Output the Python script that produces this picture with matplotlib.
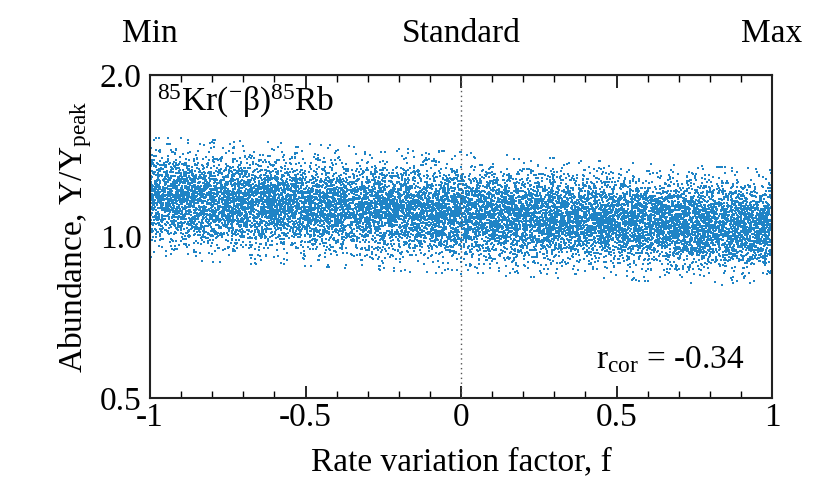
import numpy as np
import matplotlib
matplotlib.use("Agg")
import matplotlib.pyplot as plt
from matplotlib.ticker import FixedLocator, MultipleLocator, NullLocator

plt.rcParams["font.family"] = ["Liberation Serif", "DejaVu Serif"]
plt.rcParams["mathtext.fontset"] = "custom"
plt.rcParams["mathtext.rm"] = "Liberation Serif"
plt.rcParams["mathtext.it"] = "Liberation Serif:italic"

# band of the Monte Carlo cloud (median and 1-sigma in log2)
band_x = [-1.0, -0.5, 0.0, 0.5, 1.0]
band_center = [1.18, 1.145, 1.105, 1.07, 1.035]
band_sigma_log2 = [0.135, 0.135, 0.135, 0.13, 0.13]
n_points = 15000

y_ticks = [0.5, 1.0, 2.0]
y_tick_labels = ["0.5", "1.0", "2.0"]
x_ticks = [-1, -0.5, 0, 0.5, 1]
x_tick_labels = ["-1", "-0.5", "0", "0.5", "1"]
top_ticks = [-1, 0, 1]
top_labels = ["Min", "Standard", "Max"]
r_cor = -0.34

# individual points cannot be read, so the cloud is sampled inside the band
rng = np.random.default_rng(85)
f = rng.uniform(-1, 1, n_points)
center = np.interp(f, band_x, np.log2(band_center))
sig = np.interp(f, band_x, band_sigma_log2)
z = np.clip(rng.standard_normal(n_points), -2.8, 2.8)
ratio = 2 ** (center + sig * z)

fig = plt.figure(figsize=(8.13, 4.84), dpi=100)
ax = fig.add_axes([150 / 813, 1 - 398 / 484, 622 / 813, 323 / 484])

ax.scatter(f, ratio, s=3.0, marker="s", c="#1f84c6", linewidths=0, zorder=2)
ax.axvline(0, color="#555555", linestyle=(0, (1, 2.5)), linewidth=1.0, zorder=3)

ax.set_yscale("log")
ax.set_xlim(-1, 1)
ax.set_ylim(0.5, 2.0)
ax.yaxis.set_major_locator(FixedLocator(y_ticks))
ax.set_yticklabels(y_tick_labels)
ax.yaxis.set_minor_locator(NullLocator())
ax.tick_params(axis="y", length=0, labelsize=24, pad=6)

ax.set_xticks(x_ticks)
ax.set_xticklabels(x_tick_labels)
ax.xaxis.set_minor_locator(MultipleLocator(0.1))
ax.tick_params(axis="x", which="major", direction="in", length=9, width=1.2,
               top=True, labelsize=24, pad=3)
ax.tick_params(axis="x", which="minor", direction="in", length=5, width=1.0, top=True)

ax_top = ax.secondary_xaxis("top")
ax_top.set_xticks(top_ticks)
ax_top.set_xticklabels(top_labels)
ax_top.tick_params(length=0, labelsize=24, pad=19)

for s in ax.spines.values():
    s.set_linewidth(1.5)
    s.set_color("#222222")

ax.set_xlabel("Rate variation factor, f", fontsize=24, labelpad=10)
ax.set_ylabel(r"Abundance, Y/Y$_{\mathrm{peak}}$", fontsize=24, labelpad=4)

ax.text(0.012, 0.975, r"$^{85}$Kr($^{-}$β)$^{85}$Rb", transform=ax.transAxes,
        fontsize=24, ha="left", va="top")
ax.text(0.955, 0.07, r"r$_{\mathrm{cor}}$ = %.2f" % r_cor, transform=ax.transAxes,
        fontsize=24, ha="right", va="bottom")

fig.savefig("out.png", dpi=100)
